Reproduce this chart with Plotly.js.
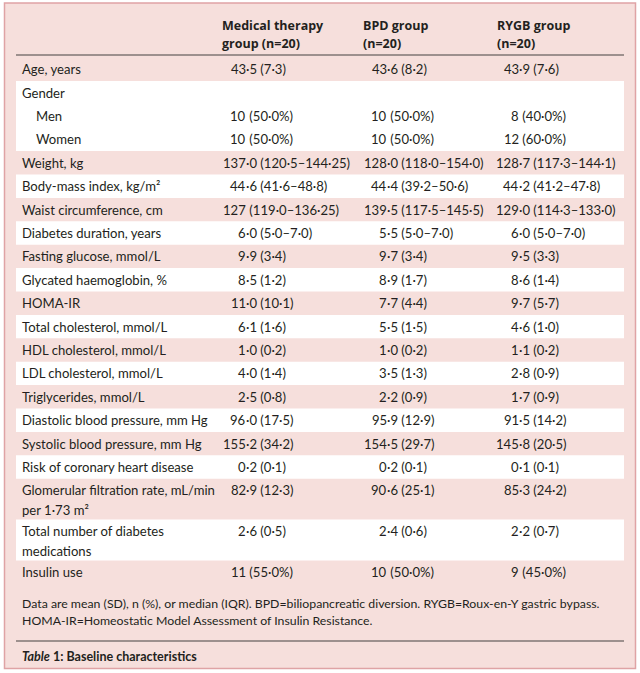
<!DOCTYPE html>
<html>
<head>
<meta charset="utf-8">
<script src="https://cdn.plot.ly/plotly-3.0.1.min.js"></script>
<style>html,body{margin:0;padding:0;background:#fff;}#chart{width:640px;height:673px;}</style>
</head>
<body>
<div id="chart"></div>
<script>
// ---- data ----
const headers = ["Medical therapy<br>group (n=20)", "BPD group<br>(n=20)", "RYGB group<br>(n=20)"];
const labels = [
  "Age, years", "Gender", "Men", "Women", "Weight, kg", "Body-mass index, kg/m²",
  "Waist circumference, cm", "Diabetes duration, years", "Fasting glucose, mmol/L",
  "Glycated haemoglobin, %", "HOMA-IR", "Total cholesterol, mmol/L", "HDL cholesterol, mmol/L",
  "LDL cholesterol, mmol/L", "Triglycerides, mmol/L", "Diastolic blood pressure, mm Hg",
  "Systolic blood pressure, mm Hg", "Risk of coronary heart disease",
  "Glomerular filtration rate, mL/min<br>per 1·73 m²", "Total number of diabetes<br>medications",
  "Insulin use"
];
const subLevels = ["Men", "Women"];
const medical = ["43·5 (7·3)", "", "10 (50·0%)", "10 (50·0%)", "137·0 (120·5–144·25)", "44·6 (41·6–48·8)",
  "127 (119·0–136·25)", "6·0 (5·0–7·0)", "9·9 (3·4)", "8·5 (1·2)", "11·0 (10·1)", "6·1 (1·6)",
  "1·0 (0·2)", "4·0 (1·4)", "2·5 (0·8)", "96·0 (17·5)", "155·2 (34·2)", "0·2 (0·1)",
  "82·9 (12·3)", "2·6 (0·5)", "11 (55·0%)"];
const bpd = ["43·6 (8·2)", "", "10 (50·0%)", "10 (50·0%)", "128·0 (118·0–154·0)", "44·4 (39·2–50·6)",
  "139·5 (117·5–145·5)", "5·5 (5·0–7·0)", "9·7 (3·4)", "8·9 (1·7)", "7·7 (4·4)", "5·5 (1·5)",
  "1·0 (0·2)", "3·5 (1·3)", "2·2 (0·9)", "95·9 (12·9)", "154·5 (29·7)", "0·2 (0·1)",
  "90·6 (25·1)", "2·4 (0·6)", "10 (50·0%)"];
const rygb = ["43·9 (7·6)", "", "8 (40·0%)", "12 (60·0%)", "128·7 (117·3–144·1)", "44·2 (41·2–47·8)",
  "129·0 (114·3–133·0)", "6·0 (5·0–7·0)", "9·5 (3·3)", "8·6 (1·4)", "9·7 (5·7)", "4·6 (1·0)",
  "1·1 (0·2)", "2·8 (0·9)", "1·7 (0·9)", "91·5 (14·2)", "145·8 (20·5)", "0·1 (0·1)",
  "85·3 (24·2)", "2·2 (0·7)", "9 (45·0%)"];
const footnote = ["Data are mean (SD), n (%), or median (IQR). BPD=biliopancreatic diversion. RYGB=Roux-en-Y gastric bypass.",
  "HOMA-IR=Homeostatic Model Assessment of Insulin Resistance."];
const caption = "<b><i>Table</i> 1: Baseline characteristics</b>";

// ---- layout / styling ----
const W = 640, H = 673;
const FONT = "Lato, 'Open Sans', sans-serif";
const HFONT = "'Open Sans', Lato, sans-serif";
const TXT = "#231f20";
const PINK = "#f6dfdc";
const BORDER = "#dfa3a5";
const RULE = "#9d908e";
const FS = 13.1;
const labelX = 22, indentX = 36;
const headerX = [222, 363, 497];
const decX = [246, 387, 519];
const bandL = 16, bandR = 624;
const bodyTop = 57.5, pitch = 23.4, extraBand = 17.5, lineGap = 19.5;

const columns = [medical, bpd, rygb];
const annotations = [];
const shapes = [];

function ann(x, y, text, opts) {
  annotations.push(Object.assign({
    x: x, y: y, xref: 'x', yref: 'y', text: text, showarrow: false,
    xanchor: 'left', yanchor: 'middle', borderpad: 0, borderwidth: 0,
    font: {family: FONT, size: FS, color: TXT}
  }, opts || {}));
}

// background + border
shapes.push({type: 'rect', xref: 'x', yref: 'y', x0: 4.5, x1: 635.5, y0: 3, y1: 668.5,
  fillcolor: PINK, line: {color: BORDER, width: 1.5}, layer: 'below'});

// header
headers.forEach((h, c) => {
  h.split('<br>').forEach((line, k) => {
    ann(headerX[c], 25 + k * 18.5, line, {font: {family: HFONT, size: 12.5, color: TXT, weight: 'bold'}});
  });
});
shapes.push({type: 'line', xref: 'x', yref: 'y', x0: bandL, x1: bandR, y0: 55, y1: 55,
  line: {color: RULE, width: 2}});

// body rows
let y = bodyTop;
let group = -1;
const bands = [];
labels.forEach((lab, i) => {
  const isSub = subLevels.indexOf(lab) >= 0;
  if (!isSub) group += 1;
  const lines = lab.split('<br>');
  const h = pitch + (lines.length - 1) * extraBand;
  if (group % 2 === 1) {
    if (isSub) bands[bands.length - 1].y1 = y + h;
    else bands.push({y0: y, y1: y + h});
  }
  const cy = y + pitch / 2;
  lines.forEach((line, k) => {
    ann(isSub ? indentX : labelX, cy + k * lineGap, line);
  });
  columns.forEach((col, c) => {
    const v = col[i];
    if (!v) return;
    let cut = v.length;
    const d = v.indexOf('·'), s = v.indexOf(' ');
    if (d >= 0) cut = Math.min(cut, d);
    if (s >= 0) cut = Math.min(cut, s);
    const left = v.slice(0, cut);
    const right = v.slice(cut).replace(/ /g, '\u00a0');
    ann(decX[c], cy, left, {xanchor: 'right'});
    ann(decX[c], cy, right, {xanchor: 'left'});
  });
  y += h;
});
bands.forEach(b => {
  shapes.push({type: 'rect', xref: 'x', yref: 'y', x0: bandL, x1: bandR, y0: b.y0, y1: b.y1,
    fillcolor: '#ffffff', line: {width: 0}, layer: 'below'});
});

// footnote + caption
footnote.forEach((f, k) => ann(labelX, 603 + k * 17, f, {font: {family: FONT, size: 12.3, color: TXT}}));
shapes.push({type: 'line', xref: 'x', yref: 'y', x0: bandL, x1: bandR, y0: 641, y1: 641,
  line: {color: RULE, width: 2}});
ann(labelX, 656, caption, {font: {family: FONT, size: 12.5, color: TXT}});

const layout = {
  width: W, height: H, margin: {l: 0, r: 0, t: 0, b: 0, pad: 0},
  paper_bgcolor: '#ffffff', plot_bgcolor: '#ffffff', showlegend: false,
  xaxis: {range: [0, W], visible: false, fixedrange: true},
  yaxis: {range: [H, 0], visible: false, fixedrange: true},
  shapes: shapes, annotations: annotations
};
Plotly.newPlot('chart', [{x: [], y: [], type: 'scatter', mode: 'markers', hoverinfo: 'skip'}], layout,
  {staticPlot: true, displayModeBar: false});
</script>
</body>
</html>
